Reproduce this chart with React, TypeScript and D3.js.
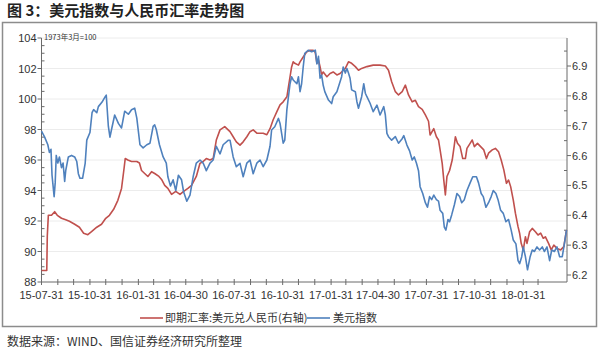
import React from "react";
import * as d3 from "d3";

// 季度标签（x轴）
const quarterLabels = [
  "2015-07-31", "2015-10-31", "2016-01-31", "2016-04-30", "2016-07-31", "2016-10-31",
  "2017-01-31", "2017-04-30", "2017-07-31", "2017-10-31", "2018-01-31",
];
const leftTicks = [88, 90, 92, 94, 96, 98, 100, 102, 104];
const rightTicks = [6.2, 6.3, 6.4, 6.5, 6.6, 6.7, 6.8, 6.9];

// 即期汇率:美元兑人民币(右轴)
const usdcny: [string, number][] = [
  ["2015-07-31", 6.215], ["2015-08-10", 6.215], ["2015-08-11", 6.33], ["2015-08-13", 6.40],
  ["2015-08-19", 6.40], ["2015-08-25", 6.412], ["2015-08-30", 6.40], ["2015-09-07", 6.39],
  ["2015-09-15", 6.385], ["2015-09-22", 6.38], ["2015-10-02", 6.37], ["2015-10-11", 6.36],
  ["2015-10-19", 6.34], ["2015-10-27", 6.335], ["2015-11-03", 6.345], ["2015-11-13", 6.36],
  ["2015-11-22", 6.37], ["2015-11-30", 6.39], ["2015-12-07", 6.40], ["2015-12-15", 6.42],
  ["2015-12-23", 6.45], ["2015-12-30", 6.49], ["2016-01-04", 6.56], ["2016-01-06", 6.59],
  ["2016-01-11", 6.585], ["2016-01-18", 6.58], ["2016-01-28", 6.58], ["2016-02-02", 6.575],
  ["2016-02-06", 6.55], ["2016-02-12", 6.54], ["2016-02-18", 6.53], ["2016-02-25", 6.546],
  ["2016-03-02", 6.54], ["2016-03-10", 6.53], ["2016-03-15", 6.52], ["2016-03-21", 6.50],
  ["2016-03-27", 6.49], ["2016-04-03", 6.47], ["2016-04-11", 6.48], ["2016-04-19", 6.47],
  ["2016-04-26", 6.48], ["2016-05-04", 6.49], ["2016-05-11", 6.50], ["2016-05-20", 6.53],
  ["2016-05-27", 6.574], ["2016-06-02", 6.58], ["2016-06-08", 6.59], ["2016-06-15", 6.585],
  ["2016-06-21", 6.59], ["2016-06-27", 6.652], ["2016-07-04", 6.686], ["2016-07-13", 6.697],
  ["2016-07-23", 6.68], ["2016-07-29", 6.663], ["2016-08-04", 6.646], ["2016-08-11", 6.635],
  ["2016-08-17", 6.646], ["2016-08-24", 6.663], ["2016-08-30", 6.68], ["2016-09-05", 6.686],
  ["2016-09-12", 6.675], ["2016-09-24", 6.675], ["2016-10-01", 6.67], ["2016-10-07", 6.69],
  ["2016-10-13", 6.72], ["2016-10-20", 6.747], ["2016-10-26", 6.77], ["2016-11-01", 6.78],
  ["2016-11-08", 6.797], ["2016-11-11", 6.83], ["2016-11-14", 6.864], ["2016-11-17", 6.897],
  ["2016-11-20", 6.914], ["2016-11-23", 6.909], ["2016-11-30", 6.903], ["2016-12-03", 6.914],
  ["2016-12-09", 6.93], ["2016-12-16", 6.948], ["2016-12-22", 6.953], ["2016-12-28", 6.953],
  ["2017-01-01", 6.945], ["2017-01-04", 6.909], ["2017-01-07", 6.92], ["2017-01-10", 6.898],
  ["2017-01-13", 6.87], ["2017-01-16", 6.88], ["2017-01-23", 6.864], ["2017-01-29", 6.875],
  ["2017-02-04", 6.88], ["2017-02-11", 6.87], ["2017-02-17", 6.875], ["2017-02-27", 6.892],
  ["2017-03-05", 6.914], ["2017-03-11", 6.909], ["2017-03-18", 6.898], ["2017-03-24", 6.886],
  ["2017-03-30", 6.892], ["2017-04-09", 6.898], ["2017-04-21", 6.903], ["2017-05-04", 6.903],
  ["2017-05-14", 6.90], ["2017-05-20", 6.886], ["2017-05-26", 6.847], ["2017-06-02", 6.814],
  ["2017-06-08", 6.803], ["2017-06-15", 6.814], ["2017-06-21", 6.836], ["2017-06-27", 6.803],
  ["2017-07-04", 6.78], ["2017-07-10", 6.785], ["2017-07-16", 6.764], ["2017-07-23", 6.755],
  ["2017-07-29", 6.736], ["2017-08-04", 6.715], ["2017-08-07", 6.669], ["2017-08-14", 6.69],
  ["2017-08-19", 6.663], ["2017-08-23", 6.652], ["2017-08-26", 6.619], ["2017-08-30", 6.574],
  ["2017-09-02", 6.518], ["2017-09-05", 6.468], ["2017-09-08", 6.53], ["2017-09-13", 6.55],
  ["2017-09-18", 6.585], ["2017-09-22", 6.635], ["2017-09-24", 6.663], ["2017-09-28", 6.641],
  ["2017-10-03", 6.63], ["2017-10-08", 6.59], ["2017-10-13", 6.59], ["2017-10-16", 6.624],
  ["2017-10-22", 6.641], ["2017-10-26", 6.652], ["2017-10-30", 6.63], ["2017-11-05", 6.641],
  ["2017-11-11", 6.63], ["2017-11-17", 6.619], ["2017-11-22", 6.59], ["2017-11-26", 6.608],
  ["2017-12-03", 6.619], ["2017-12-09", 6.624], ["2017-12-15", 6.613], ["2017-12-20", 6.585],
  ["2017-12-25", 6.552], ["2017-12-30", 6.507], ["2018-01-03", 6.518], ["2018-01-07", 6.496],
  ["2018-01-12", 6.451], ["2018-01-16", 6.407], ["2018-01-21", 6.362], ["2018-01-24", 6.34],
  ["2018-01-27", 6.306], ["2018-01-31", 6.284], ["2018-02-04", 6.328], ["2018-02-07", 6.306],
  ["2018-02-12", 6.345], ["2018-02-17", 6.356], ["2018-02-23", 6.345], ["2018-02-28", 6.334],
  ["2018-03-05", 6.34], ["2018-03-10", 6.323], ["2018-03-14", 6.328], ["2018-03-20", 6.306],
  ["2018-03-25", 6.284], ["2018-03-30", 6.30], ["2018-04-05", 6.289], ["2018-04-12", 6.284],
  ["2018-04-18", 6.295], ["2018-04-23", 6.35],
];

// 美元指数
const dxy: [string, number][] = [
  ["2015-07-31", 97.9], ["2015-08-06", 97.5], ["2015-08-12", 97.0], ["2015-08-15", 96.5],
  ["2015-08-18", 96.7], ["2015-08-20", 95.0], ["2015-08-24", 93.6], ["2015-08-26", 94.5],
  ["2015-08-28", 96.3], ["2015-08-31", 95.8], ["2015-09-03", 96.2], ["2015-09-07", 95.5],
  ["2015-09-10", 95.8], ["2015-09-13", 94.6], ["2015-09-15", 95.3], ["2015-09-20", 96.2],
  ["2015-09-26", 96.3], ["2015-10-02", 96.2], ["2015-10-06", 95.9], ["2015-10-09", 95.1],
  ["2015-10-12", 94.8], ["2015-10-17", 94.8], ["2015-10-22", 95.8], ["2015-10-25", 97.3],
  ["2015-10-31", 97.8], ["2015-11-04", 99.1], ["2015-11-07", 99.3], ["2015-11-13", 99.1],
  ["2015-11-16", 99.5], ["2015-11-23", 99.8], ["2015-11-29", 100.15], ["2015-12-01", 100.25],
  ["2015-12-05", 98.2], ["2015-12-08", 97.5], ["2015-12-11", 98.0], ["2015-12-17", 98.95],
  ["2015-12-24", 98.4], ["2015-12-30", 98.1], ["2016-01-05", 99.2], ["2016-01-12", 99.0],
  ["2016-01-18", 99.3], ["2016-01-24", 99.4], ["2016-01-28", 98.75], ["2016-02-03", 97.0],
  ["2016-02-09", 96.8], ["2016-02-16", 97.0], ["2016-02-22", 97.1], ["2016-02-28", 98.2],
  ["2016-03-02", 98.3], ["2016-03-05", 98.0], ["2016-03-11", 97.0], ["2016-03-18", 96.2],
  ["2016-03-24", 95.8], ["2016-03-27", 94.9], ["2016-04-01", 94.3], ["2016-04-06", 94.7],
  ["2016-04-11", 94.0], ["2016-04-16", 95.0], ["2016-04-22", 94.7], ["2016-04-26", 93.9],
  ["2016-05-02", 93.3], ["2016-05-08", 93.7], ["2016-05-14", 94.9], ["2016-05-20", 95.8],
  ["2016-05-27", 96.0], ["2016-06-02", 95.8], ["2016-06-08", 95.3], ["2016-06-15", 95.8],
  ["2016-06-21", 96.0], ["2016-06-27", 96.9], ["2016-07-04", 96.4], ["2016-07-10", 97.0],
  ["2016-07-20", 97.3], ["2016-07-23", 97.3], ["2016-07-29", 96.2], ["2016-08-04", 95.56],
  ["2016-08-11", 95.78], ["2016-08-17", 94.9], ["2016-08-24", 95.8], ["2016-08-30", 96.0],
  ["2016-09-05", 95.1], ["2016-09-12", 95.8], ["2016-09-18", 96.0], ["2016-09-24", 95.56],
  ["2016-10-01", 96.0], ["2016-10-07", 96.9], ["2016-10-10", 97.97], ["2016-10-16", 98.18],
  ["2016-10-23", 98.73], ["2016-10-26", 98.4], ["2016-11-01", 97.1], ["2016-11-04", 97.3],
  ["2016-11-08", 99.3], ["2016-11-14", 101.0], ["2016-11-17", 101.46], ["2016-11-20", 101.25],
  ["2016-11-27", 101.0], ["2016-11-30", 101.46], ["2016-12-03", 100.48], ["2016-12-06", 101.0],
  ["2016-12-09", 102.1], ["2016-12-12", 103.0], ["2016-12-19", 103.2], ["2016-12-25", 103.1],
  ["2017-01-01", 103.2], ["2017-01-04", 102.3], ["2017-01-07", 102.8], ["2017-01-10", 101.36],
  ["2017-01-13", 101.57], ["2017-01-16", 100.9], ["2017-01-19", 100.48], ["2017-01-26", 99.93],
  ["2017-02-01", 99.7], ["2017-02-04", 100.15], ["2017-02-11", 100.48], ["2017-02-14", 100.8],
  ["2017-02-20", 101.46], ["2017-02-23", 102.1], ["2017-02-27", 101.7], ["2017-03-02", 102.0],
  ["2017-03-05", 101.7], ["2017-03-08", 101.36], ["2017-03-11", 100.6], ["2017-03-18", 100.48],
  ["2017-03-21", 99.82], ["2017-03-24", 99.39], ["2017-03-30", 100.15], ["2017-04-03", 101.0],
  ["2017-04-06", 100.38], ["2017-04-09", 100.15], ["2017-04-15", 99.72], ["2017-04-21", 99.17],
  ["2017-04-28", 99.6], ["2017-05-04", 98.95], ["2017-05-11", 99.5], ["2017-05-14", 98.95],
  ["2017-05-17", 97.75], ["2017-05-20", 97.53], ["2017-05-26", 97.3], ["2017-06-02", 97.53],
  ["2017-06-08", 97.1], ["2017-06-15", 97.4], ["2017-06-18", 97.6], ["2017-06-24", 96.98],
  ["2017-06-29", 96.6], ["2017-07-04", 96.0], ["2017-07-08", 96.2], ["2017-07-12", 95.8],
  ["2017-07-16", 95.3], ["2017-07-19", 94.25], ["2017-07-24", 93.8], ["2017-07-29", 93.2],
  ["2017-08-02", 92.9], ["2017-08-06", 93.6], ["2017-08-10", 93.4], ["2017-08-14", 93.7],
  ["2017-08-19", 93.4], ["2017-08-23", 93.3], ["2017-08-26", 92.7], ["2017-08-31", 92.5],
  ["2017-09-03", 91.6], ["2017-09-06", 91.4], ["2017-09-10", 92.1], ["2017-09-13", 91.95],
  ["2017-09-17", 92.4], ["2017-09-22", 93.05], ["2017-09-27", 93.8], ["2017-10-02", 93.6],
  ["2017-10-06", 93.2], ["2017-10-11", 93.4], ["2017-10-16", 94.0], ["2017-10-22", 94.5],
  ["2017-10-27", 94.9], ["2017-11-03", 94.9], ["2017-11-07", 94.5], ["2017-11-12", 93.8],
  ["2017-11-16", 93.6], ["2017-11-21", 92.9], ["2017-11-26", 93.2], ["2017-12-01", 93.6],
  ["2017-12-05", 94.0], ["2017-12-10", 93.8], ["2017-12-14", 93.4], ["2017-12-19", 92.7],
  ["2017-12-24", 92.5], ["2017-12-29", 91.95], ["2018-01-03", 92.1], ["2018-01-08", 91.4],
  ["2018-01-12", 90.75], ["2018-01-17", 90.5], ["2018-01-21", 89.4], ["2018-01-24", 89.2],
  ["2018-01-28", 89.66], ["2018-01-31", 90.3], ["2018-02-04", 89.66], ["2018-02-08", 88.8],
  ["2018-02-13", 89.66], ["2018-02-17", 90.1], ["2018-02-21", 90.0], ["2018-02-26", 90.3],
  ["2018-03-03", 90.1], ["2018-03-08", 90.3], ["2018-03-12", 90.0], ["2018-03-17", 90.3],
  ["2018-03-22", 89.4], ["2018-03-26", 90.1], ["2018-03-31", 90.0], ["2018-04-05", 90.3],
  ["2018-04-10", 89.66], ["2018-04-15", 89.66], ["2018-04-19", 90.5], ["2018-04-23", 91.4],
];

const RED = "#c0504d";
const BLUE = "#4f81bd";
const AXIS = "#6b6b6b";
const LABEL_FONT = "'Liberation Sans', Arial, sans-serif";
const CJK_FONT = "'Noto Sans CJK SC', sans-serif";

const parse = d3.timeParse("%Y-%m-%d");
const fmt = d3.timeFormat("%y-%m-%d");

export default function App() {
  const width = 600;
  const height = 354;
  const left = 41.5;
  const right = 567;
  const top = 38;
  const bottom = 282;

  const x = d3.scaleTime()
    .domain([parse("2015-07-31")!, parse("2018-04-24")!])
    .range([left, right]);
  const yL = d3.scaleLinear().domain([88, 104]).range([bottom, top]);
  const yR = d3.scaleLinear().domain([6.2, 6.9]).range([275, 66]);

  const lineL = d3.line<[string, number]>()
    .x(d => x(parse(d[0])!))
    .y(d => yL(d[1]));
  const lineR = d3.line<[string, number]>()
    .x(d => x(parse(d[0])!))
    .y(d => yR(d[1]));

  // 每月月末刻度
  const monthTicks = d3.timeMonth
    .range(new Date(2015, 7, 1), new Date(2018, 3, 1))
    .map(d => d3.timeDay.offset(d, -1));
  const leftMinor = d3.range(88, 104.01, 0.5).filter(v => !leftTicks.includes(v));
  const rightMinor = d3.range(6.15, 7.0, 0.1).filter(v => yR(v) >= top - 0.5 && yR(v) <= bottom);

  return (
    <svg width={width} height={height} style={{ position: "absolute", left: 0, top: 0, background: "#fff" }}>
      <rect x={0} y={0} width={width} height={height} fill="#fff" />
      {/* 标题 */}
      <text x={7} y={16} fontFamily={CJK_FONT} fontWeight="bold" fontSize={15} fill="#222">
        图 3：美元指数与人民币汇率走势图
      </text>
      <rect x={2.5} y={22.5} width={594} height={304} fill="none" stroke="#8c8c8c" strokeWidth={1.5} />

      {/* 网格线 */}
      {leftTicks.slice(1).map(v => (
        <line key={"g" + v} x1={left} x2={right} y1={yL(v)} y2={yL(v)} stroke="#ececec" strokeWidth={1} />
      ))}

      {/* 左轴 */}
      <line x1={left} x2={left} y1={top} y2={bottom} stroke={AXIS} />
      {leftTicks.map(v => (
        <g key={"l" + v}>
          <line x1={left - 4} x2={left} y1={yL(v)} y2={yL(v)} stroke={AXIS} />
          <text x={left - 5} y={yL(v) + 4} textAnchor="end" fontFamily={LABEL_FONT} fontSize={11} fill="#333">
            {v}
          </text>
        </g>
      ))}
      {leftMinor.map(v => (
        <line key={"lm" + v} x1={left} x2={left + 3} y1={yL(v)} y2={yL(v)} stroke={AXIS} />
      ))}

      {/* 右轴 */}
      <line x1={right} x2={right} y1={top} y2={bottom} stroke={AXIS} />
      {rightTicks.map(v => (
        <g key={"r" + v}>
          <line x1={right} x2={right + 4} y1={yR(v)} y2={yR(v)} stroke={AXIS} />
          <text x={right + 5} y={yR(v) + 4} fontFamily={LABEL_FONT} fontSize={11} fill="#333">
            {v.toFixed(1)}
          </text>
        </g>
      ))}
      {rightMinor.map(v => (
        <line key={"rm" + v} x1={right - 3} x2={right} y1={yR(v)} y2={yR(v)} stroke={AXIS} />
      ))}

      {/* x轴 */}
      <line x1={left} x2={right} y1={bottom} y2={bottom} stroke={AXIS} />
      {monthTicks.map(d => (
        <line key={"m" + d.getTime()} x1={x(d)} x2={x(d)} y1={bottom - 3} y2={bottom + 3} stroke={AXIS} />
      ))}
      {quarterLabels.map(s => (
        <text key={"q" + s} x={x(parse(s)!)} y={299} textAnchor="middle" fontFamily={LABEL_FONT} fontSize={11} fill="#333">
          {fmt(parse(s)!)}
        </text>
      ))}

      <text x={44} y={40} fontFamily={CJK_FONT} fontSize={7.5} fill="#333">1973年3月=100</text>

      {/* 折线 */}
      <path d={lineR(usdcny) ?? ""} fill="none" stroke={RED} strokeWidth={1.6} strokeLinejoin="round" />
      <path d={lineL(dxy) ?? ""} fill="none" stroke={BLUE} strokeWidth={1.6} strokeLinejoin="round" />

      {/* 图例 */}
      <line x1={140} x2={163} y1={318} y2={318} stroke={RED} strokeWidth={1.6} />
      <text x={165} y={322} fontFamily={CJK_FONT} fontSize={11} fill="#333">即期汇率:美元兑人民币(右轴)</text>
      <line x1={307} x2={330} y1={318} y2={318} stroke={BLUE} strokeWidth={1.6} />
      <text x={333} y={322} fontFamily={CJK_FONT} fontSize={11} fill="#333">美元指数</text>

      {/* 数据来源 */}
      <text x={7} y={346} fontFamily={CJK_FONT} fontSize={12} fill="#333">
        数据来源：WIND、国信证券经济研究所整理
      </text>
    </svg>
  );
}
